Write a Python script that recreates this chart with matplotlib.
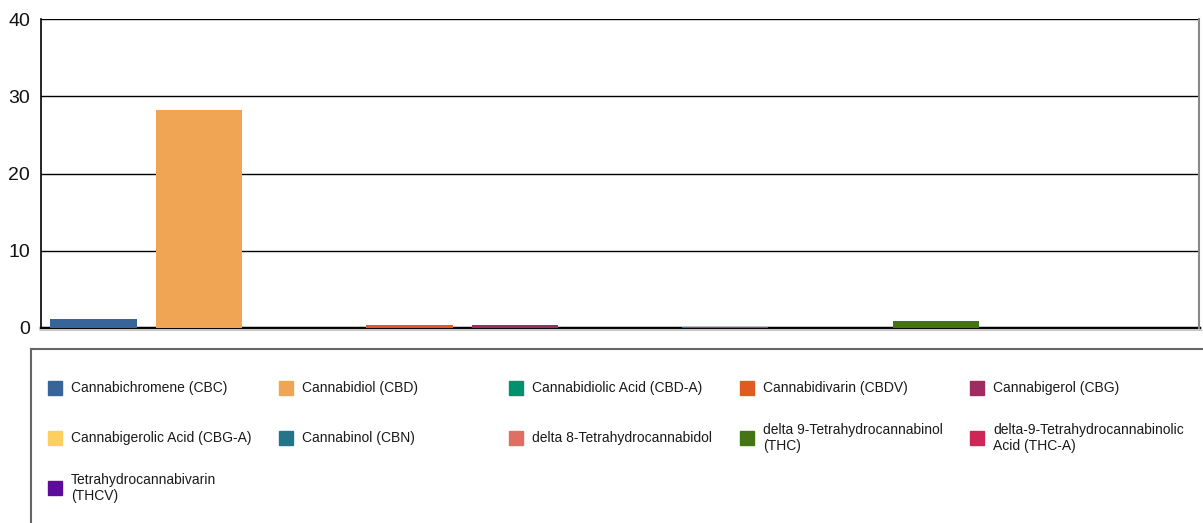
import matplotlib
matplotlib.use("Agg")
import matplotlib.pyplot as plt
from matplotlib.patches import Rectangle
from matplotlib.lines import Line2D

plt.rcParams['font.family'] = ['Liberation Sans', 'DejaVu Sans']

compounds = [
    "Cannabichromene (CBC)",
    "Cannabidiol (CBD)",
    "Cannabidiolic Acid (CBD-A)",
    "Cannabidivarin (CBDV)",
    "Cannabigerol (CBG)",
    "Cannabigerolic Acid (CBG-A)",
    "Cannabinol (CBN)",
    "delta 8-Tetrahydrocannabidol",
    "delta 9-Tetrahydrocannabinol\n(THC)",
    "delta-9-Tetrahydrocannabinolic\nAcid (THC-A)",
    "Tetrahydrocannabivarin\n(THCV)",
]
amounts = [1.2, 28.2, 0.0, 0.4, 0.4, 0.0, 0.15, 0.0, 0.85, 0.0, 0.0]
colors = ["#376499", "#F0A554", "#00916E", "#E05A21", "#9E2B62", "#FDD05E",
          "#25758A", "#DE6F63", "#457414", "#CB2858", "#5C0B9B"]
y_ticks = [0, 10, 20, 30, 40]

W, H = 1203, 523
fig = plt.figure(figsize=(W / 100, H / 100), dpi=100)
ax = fig.add_axes([41 / W, (H - 328) / H, (1199 - 41) / W, (328 - 19) / H])

x = range(len(compounds))
ax.bar(x, amounts, width=0.82, color=colors, zorder=3)
ax.set_xlim(-0.5, len(compounds) - 0.5)
ax.set_ylim(0, 40)
ax.set_yticks(y_ticks)
ax.set_xticks([])
ax.tick_params(axis='y', length=0, labelsize=14, pad=8, labelcolor='#111111')
ax.grid(axis='y', color='black', linewidth=1, zorder=0)
ax.spines['top'].set_visible(False)
ax.spines['left'].set_linewidth(1.2)
ax.spines['bottom'].set_linewidth(2.5)
ax.spines['bottom'].set_zorder(2)
ax.spines['right'].set_color('#888888')
ax.spines['right'].set_linewidth(1.5)

# faint shadow under the baseline
fig.add_artist(Line2D([41 / W, 1201 / W], [(H - 330) / H] * 2,
                      color='#c8c8c8', linewidth=1.5))

# legend frame (open on right and bottom)
fig.add_artist(Line2D([31 / W, 1.0], [(H - 349) / H] * 2,
                      color='#666666', linewidth=1.5))
fig.add_artist(Line2D([31 / W] * 2, [(H - 349) / H, 0],
                      color='#666666', linewidth=1.5))

col_x = [48, 279, 509, 740, 970]
row_y = [388, 438, 488]
for i, (name, c) in enumerate(zip(compounds, colors)):
    cx = col_x[i % 5]
    cy = row_y[i // 5]
    fig.add_artist(Rectangle((cx / W, (H - cy - 7) / H), 14 / W, 14 / H,
                             color=c, transform=fig.transFigure))
    fig.text((cx + 23) / W, (H - cy) / H, name, fontsize=10,
             va='center', ha='left', color='#1a1a1a', linespacing=1.2)

fig.savefig("out.png", dpi=100)
